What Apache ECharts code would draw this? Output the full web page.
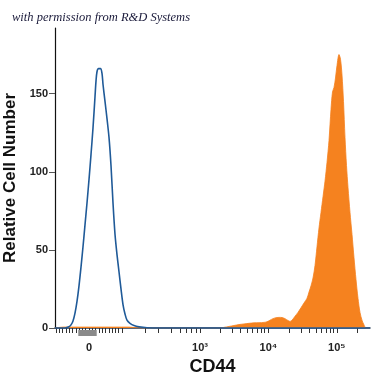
<!DOCTYPE html>
<html>
<head>
<meta charset="utf-8">
<script src="https://cdn.jsdelivr.net/npm/echarts@6/dist/echarts.min.js"></script>
<style>html,body{margin:0;padding:0;background:#fff}#c{width:375px;height:375px}</style>
</head>
<body>
<div id="c"></div>
<script>
// x values are in display (biexponential) units: 0 -> "0", 111 -> 10^3, 179.4 -> 10^4, 247.8 -> 10^5
const tickLabelPos = [0, 111, 179.4, 247.8];
const tickLabelText = ['0', '10³', '10⁴', '10⁵'];
const minorTickPos = [-33,-29.7,-26.4,-23.1,-19.8,-16.5,-13.2,-9.9,-6.6,-3.3,0,3.3,6.6,9.9,13.2,16.5,19.8,23.1,26.4,29.7,33,
  56,69.3,82.7,91,97.7,102.7,107.7,111,
  131.6,143,151.2,157.8,163.2,167.8,171.8,175.3,179.4,
  200,212,220.6,227.2,232.6,237.2,241.2,244.7,247.8,268.4];

const blueX = [-34,-24,-20,-18,-16,-14,-12,-10,-8,-6,-4,-2,0,2,4,6,7,8,9.5,11.5,13,14,16,18,20,22,24,26,28,30,32,34,36,38,41,45,50,58,70,281];
const blueY = [0,0,0.8,2,4.5,9.5,17,27,39,52,66,80,95,111,128,148,158,164,166,166,163,156,145,134,122,104,80,60,47,36,25,15,9,5,3,1.6,0.8,0.2,0,0];

const orangeX = [-34,-25,40,50,131,135,140,145,150,155,160,165,170,175,178,181,184,187,190,193,196,199,201,203,206,209,212,215,218,220,222,224,226,228,230,232,234,236,238,240,242,243.5,245,246.5,248,250,251.5,253,254.5,256,257.5,259,261,263,265,267,269,271,273,275,277,281];
const orangeY = [0,0.6,0.6,0,0,0.4,1,1.6,2.2,2.6,3,3.3,3.4,3.6,4,5,6,6.6,6.8,6.7,6,4.8,4.2,5,7.5,10,13,16,19,23,27,32,40,52,64,74,84,94,106,120,140,151,154,160,168,175,172,162,145,122,104,90,74,60,45,31,19,10,5,2,0,0];

const grayBlock = [[-10.7, 7.7]];

const zip = (xs, ys) => xs.map((x, i) => [x, ys[i]]);

const chart = echarts.init(document.getElementById('c'), null, {renderer: 'canvas'});
chart.setOption({
  animation: false,
  title: {
    text: 'with permission from R&D Systems',
    left: 7, top: 6,
    textStyle: {fontFamily: 'Liberation Serif', fontStyle: 'italic', fontWeight: 'normal', fontSize: 12.5, color: '#1a1a3a'}
  },
  grid: {left: 55, right: 5, top: 28, bottom: 47, containLabel: false, outerBoundsMode: 'none'},
  xAxis: {
    type: 'value', min: -34, max: 281,
    name: 'CD44', nameLocation: 'middle', nameGap: 24,
    nameTextStyle: {fontFamily: 'Liberation Sans', fontWeight: 'bold', fontSize: 18, color: '#111'},
    axisLine: {show: true, onZero: false, lineStyle: {color: '#1e3550', width: 1.5}},
    axisTick: {show: true, inside: false, length: 5, customValues: minorTickPos, lineStyle: {color: '#333', width: 1}},
    axisLabel: {customValues: tickLabelPos, formatter: v => tickLabelText[tickLabelPos.indexOf(v)] || '',
      margin: 14, fontFamily: 'Liberation Sans', fontWeight: 'bold', fontSize: 11, color: '#222'},
    splitLine: {show: false}
  },
  yAxis: {
    type: 'value', min: 0, max: 192, interval: 50,
    name: 'Relative Cell Number', nameLocation: 'middle', nameGap: 27,
    nameTextStyle: {fontFamily: 'Liberation Sans', fontWeight: 'bold', fontSize: 17, color: '#111'},
    axisLine: {show: true, onZero: false, lineStyle: {color: '#111', width: 1.2}},
    axisTick: {show: true, length: 6, lineStyle: {color: '#555'}},
    axisLabel: {margin: 7, showMaxLabel: false, fontFamily: 'Liberation Sans', fontWeight: 'bold', fontSize: 11, color: '#222'},
    splitLine: {show: false}
  },
  series: [
    {
      type: 'line', data: zip(orangeX, orangeY), smooth: 0.3, showSymbol: false,
      lineStyle: {color: '#f5821f', width: 0.8}, areaStyle: {color: '#f5821f', opacity: 1}, z: 2
    },
    {
      type: 'line', data: zip(blueX, blueY), smooth: 0.3, showSymbol: false,
      lineStyle: {color: '#1f5a98', width: 1.6}, z: 3
    },
    {
      type: 'custom', data: grayBlock, z: 1, clip: false,
      renderItem: (params, api) => {
        const a = api.coord([api.value(0), 0]);
        const b = api.coord([api.value(1), 0]);
        return {type: 'rect', shape: {x: a[0], y: a[1] + 2, width: b[0] - a[0], height: 6}, style: {fill: '#8a8a8a'}};
      }
    }
  ]
});
</script>
</body>
</html>
